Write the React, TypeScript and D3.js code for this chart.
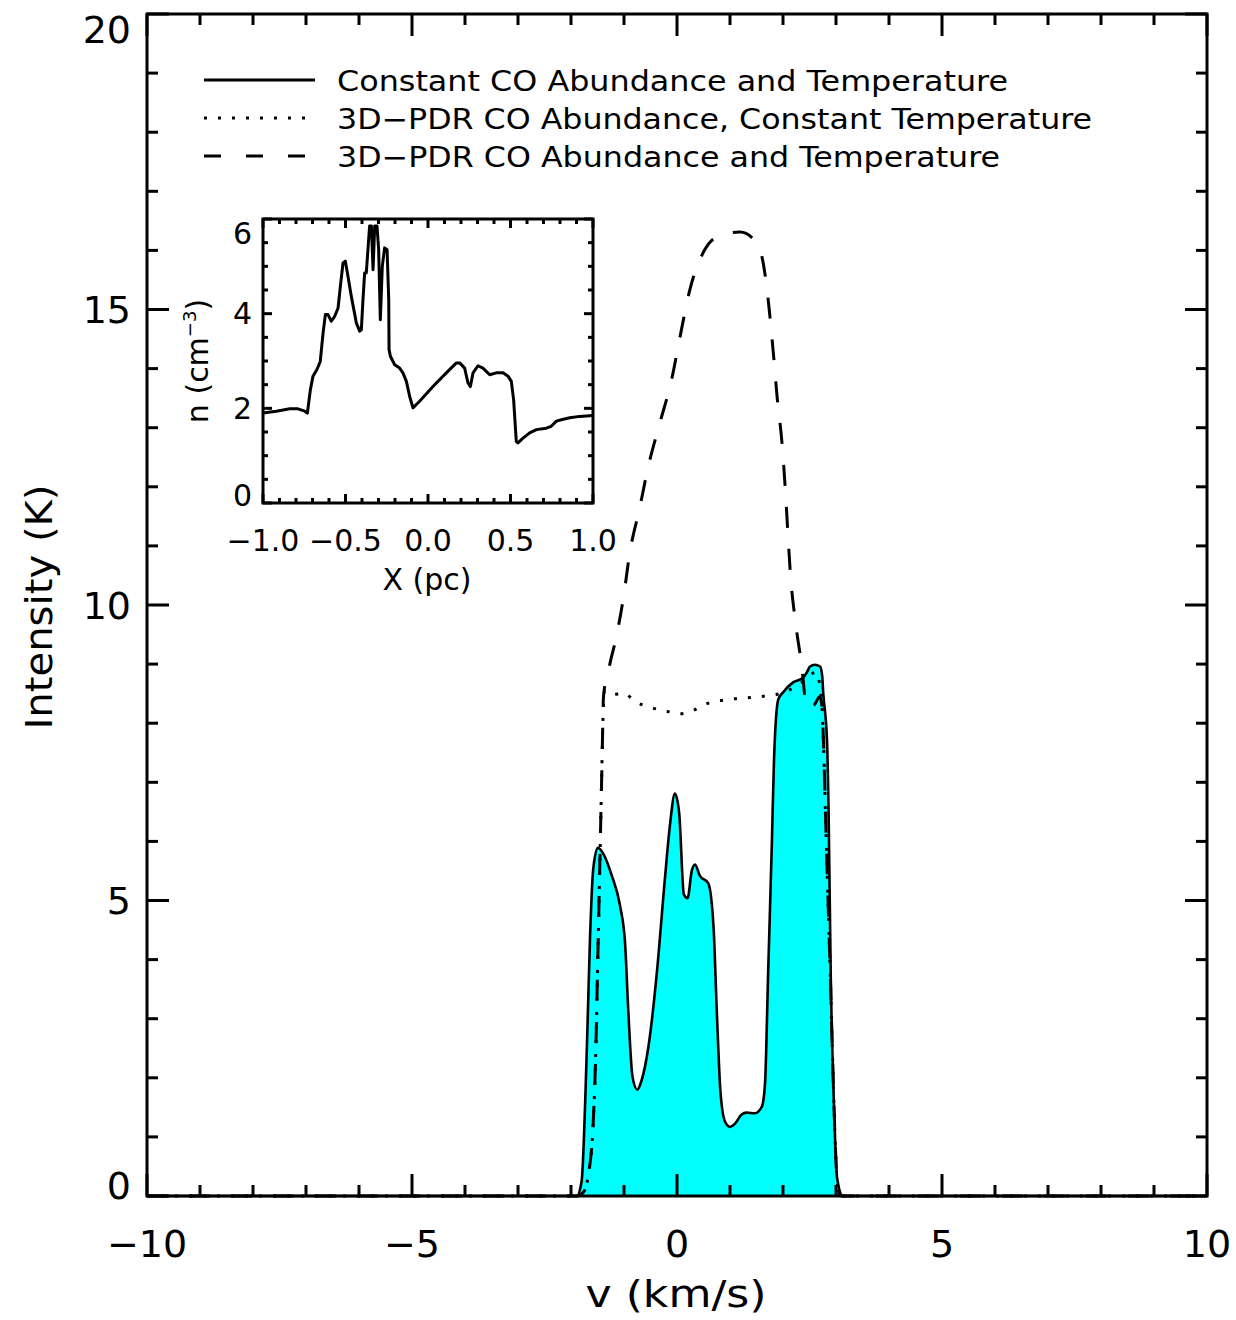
import React from "react";
import * as d3 from "d3";

// ---------- Data ----------
// Main panel: line profiles, velocity (km/s) vs intensity (K)
const solidV = [-10, -1.89, -1.80, -1.70, -1.64, -1.58, -1.49, -1.39, -1.23, -1.075, -0.98, -0.92, -0.84, -0.75, -0.67, -0.54, -0.38, -0.23, -0.13, -0.04, 0.04, 0.13, 0.20, 0.28, 0.34, 0.43, 0.59, 0.69, 0.75, 0.82, 0.91, 1.0, 1.09, 1.22, 1.31, 1.47, 1.60, 1.66, 1.72, 1.79, 1.83, 1.91, 2.0, 2.19, 2.38, 2.45, 2.51, 2.60, 2.70, 2.74, 2.76, 2.83, 2.86, 2.90, 2.96, 3.02, 3.13, 10];
const solidI = [0, 0, 0.25, 2.52, 4.40, 5.54, 5.89, 5.79, 5.42, 4.91, 4.28, 3.15, 2.02, 1.80, 1.95, 2.52, 3.78, 5.35, 6.30, 6.81, 6.49, 5.10, 5.04, 5.51, 5.61, 5.42, 5.29, 4.54, 3.15, 1.76, 1.25, 1.17, 1.22, 1.38, 1.41, 1.40, 1.51, 1.89, 3.78, 5.98, 7.37, 8.40, 8.52, 8.69, 8.77, 8.86, 8.96, 8.99, 8.96, 8.79, 8.5, 7.72, 6.5, 3.78, 1.58, 0.31, 0, 0];

const dottedV = [-10, -1.90, -1.77, -1.67, -1.58, -1.53, -1.50, -1.47, -1.44, -1.41, -1.40, -1.36, -1.23, -1.02, -0.76, -0.51, -0.19, 0.06, 0.31, 0.56, 1.06, 1.57, 1.94, 2.2, 2.45, 2.62, 2.70, 2.74, 2.77, 2.80, 2.85, 2.89, 2.93, 2.97, 3.01, 3.05, 3.10, 10];
const dottedI = [0, 0, 0.06, 0.37, 1.26, 2.52, 3.78, 5.04, 6.30, 7.56, 8.0, 8.55, 8.48, 8.51, 8.35, 8.27, 8.20, 8.16, 8.22, 8.33, 8.41, 8.45, 8.50, 8.6, 8.75, 8.87, 8.6, 8.2, 7.5, 6.5, 5.0, 3.8, 2.5, 1.3, 0.4, 0.08, 0, 0];

const dashedV = [-10, -1.90, -1.77, -1.67, -1.58, -1.53, -1.50, -1.47, -1.44, -1.41, -1.40, -1.39, -1.36, -1.30, -1.26, -1.17, -1.01, -0.89, -0.71, -0.54, -0.32, -0.10, 0.06, 0.23, 0.51, 0.81, 1.19, 1.50, 1.63, 1.74, 1.82, 1.89, 1.98, 2.04, 2.09, 2.14, 2.23, 2.35, 2.45, 2.58, 2.70, 2.74, 2.77, 2.80, 2.85, 2.89, 2.93, 2.97, 3.01, 3.05, 3.10, 10];
const dashedI = [0, 0, 0.06, 0.37, 1.26, 2.52, 3.78, 5.04, 6.30, 7.56, 8.0, 8.4, 8.65, 8.85, 9.03, 9.36, 10.13, 10.89, 11.62, 12.35, 13.09, 13.82, 14.55, 15.29, 15.99, 16.25, 16.31, 16.13, 15.77, 15.00, 14.24, 13.51, 12.75, 12.01, 11.25, 10.52, 9.75, 8.99, 8.26, 8.3, 8.45, 8.2, 7.5, 6.5, 5.0, 3.8, 2.5, 1.3, 0.4, 0.08, 0, 0];

// Inset: density profile, X (pc) vs n (cm^-3)
const insetX = [-1.0, -0.919, -0.838, -0.788, -0.747, -0.731, -0.713, -0.697, -0.673, -0.653, -0.636, -0.622, -0.606, -0.586, -0.566, -0.545, -0.531, -0.515, -0.501, -0.485, -0.465, -0.434, -0.414, -0.404, -0.394, -0.384, -0.374, -0.364, -0.354, -0.343, -0.333, -0.323, -0.309, -0.299, -0.289, -0.277, -0.263, -0.248, -0.238, -0.236, -0.228, -0.202, -0.172, -0.152, -0.131, -0.111, -0.091, -0.051, 0.030, 0.111, 0.172, 0.192, 0.222, 0.242, 0.257, 0.273, 0.303, 0.333, 0.374, 0.414, 0.455, 0.485, 0.505, 0.519, 0.535, 0.545, 0.576, 0.616, 0.657, 0.717, 0.747, 0.778, 0.808, 0.859, 0.919, 1.0];
const insetN = [1.90, 1.94, 1.99, 1.99, 1.94, 1.90, 2.39, 2.68, 2.82, 2.99, 3.59, 3.98, 3.98, 3.84, 3.94, 4.12, 4.58, 5.07, 5.11, 4.79, 4.37, 3.80, 3.63, 3.66, 4.30, 4.86, 4.86, 5.35, 5.85, 5.85, 4.93, 5.85, 5.85, 5.35, 3.87, 5.0, 5.39, 5.35, 4.30, 3.24, 3.10, 2.92, 2.85, 2.75, 2.57, 2.25, 2.01, 2.15, 2.46, 2.75, 2.96, 2.96, 2.85, 2.54, 2.46, 2.75, 2.90, 2.85, 2.71, 2.75, 2.75, 2.68, 2.57, 2.18, 1.30, 1.27, 1.37, 1.48, 1.55, 1.58, 1.62, 1.73, 1.76, 1.80, 1.83, 1.85];

// Ticks / labels
const mainXMajor = [-10, -5, 0, 5, 10];
const mainXLabels = ["\u221210", "\u22125", "0", "5", "10"];
const mainYMajor = [0, 5, 10, 15, 20];
const mainYLabels = ["0", "5", "10", "15", "20"];
const insetXMajor = [-1, -0.5, 0, 0.5, 1];
const insetXLabels = ["\u22121.0", "\u22120.5", "0.0", "0.5", "1.0"];
const insetYMajor = [0, 2, 4, 6];
const insetYLabels = ["0", "2", "4", "6"];

const legendLabels = [
  "Constant CO Abundance and Temperature",
  "3D\u2212PDR CO Abundance, Constant Temperature",
  "3D\u2212PDR CO Abundance and Temperature",
];

const FONT = "'DejaVu Sans', 'Noto Sans', sans-serif";

function range(a: number, b: number, step: number) {
  const out: number[] = [];
  const n = Math.round((b - a) / step);
  for (let i = 0; i <= n; i++) out.push(+(a + i * step).toFixed(6));
  return out;
}

function Frame({ x, y, xMajor, xMinorStep, yMajor, yMinorStep, majLen, minLen, sw }: any) {
  const [x0, x1] = x.range();
  const [y0, y1] = y.range(); // y0 bottom, y1 top
  const xd = x.domain();
  const yd = y.domain();
  const xMinor = range(xd[0], xd[1], xMinorStep);
  const yMinor = range(yd[0], yd[1], yMinorStep);
  const isMaj = (v: number, arr: number[]) => arr.some((m) => Math.abs(m - v) < 1e-6);
  const lines: any[] = [];
  xMinor.forEach((v, i) => {
    const L = isMaj(v, xMajor) ? majLen : minLen;
    const px = x(v);
    lines.push(<line key={"xb" + i} x1={px} x2={px} y1={y0} y2={y0 - L} />);
    lines.push(<line key={"xt" + i} x1={px} x2={px} y1={y1} y2={y1 + L} />);
  });
  yMinor.forEach((v, i) => {
    const L = isMaj(v, yMajor) ? majLen : minLen;
    const py = y(v);
    lines.push(<line key={"yl" + i} x1={x0} x2={x0 + L} y1={py} y2={py} />);
    lines.push(<line key={"yr" + i} x1={x1} x2={x1 - L} y1={py} y2={py} />);
  });
  return (
    <g stroke="#000" strokeWidth={sw} fill="none">
      {lines}
      <rect x={x0} y={y1} width={x1 - x0} height={y0 - y1} strokeLinejoin="miter" />
    </g>
  );
}

export default function App() {
  const W = 1236, H = 1320;
  const x = d3.scaleLinear().domain([-10, 10]).range([147, 1207]);
  const y = d3.scaleLinear().domain([0, 20]).range([1196, 14]);
  const xi = d3.scaleLinear().domain([-1, 1]).range([263, 593]);
  const yi = d3.scaleLinear().domain([0, 6]).range([503, 219]);

  const zip = (a: number[], b: number[]) => a.map((v, i) => [v, b[i]] as [number, number]);
  const line = d3.line<[number, number]>().x((d) => x(d[0])).y((d) => y(d[1])).curve(d3.curveMonotoneX);
  const area = d3.area<[number, number]>().x((d) => x(d[0])).y0(y(0)).y1((d) => y(d[1])).curve(d3.curveMonotoneX);
  const lineIn = d3.line<[number, number]>().x((d) => xi(d[0])).y((d) => yi(d[1]));

  const solid = zip(solidV, solidI);
  const dotted = zip(dottedV, dottedI);
  const dashed = zip(dashedV, dashedI);
  const inset = zip(insetX, insetN);

  const clampMain = (py: number) => Math.min(Math.max(py, 29), 1185);
  const clampIn = (py: number) => Math.min(Math.max(py, 233), 495);

  const legY = [80, 118, 156];
  const legLen = [671, 755, 663];

  return (
    <svg width={W} height={H} style={{ position: "absolute", left: 0, top: 0, background: "#fff" }} fontFamily={FONT}>
      <rect x={0} y={0} width={W} height={H} fill="#fff" />
      {/* Main profiles */}
      <path d={area(solid) || ""} fill="#00FFFF" stroke="none" />
      <path d={line(solid) || ""} fill="none" stroke="#000" strokeWidth={2.6} strokeLinejoin="round" />
      <path d={line(dotted) || ""} fill="none" stroke="#000" strokeWidth={3} strokeDasharray="3,11" />
      <path d={line(dashed) || ""} fill="none" stroke="#000" strokeWidth={3} strokeDasharray="21,21" />

      <Frame x={x} y={y} xMajor={mainXMajor} xMinorStep={1} yMajor={mainYMajor} yMinorStep={1} majLen={22} minLen={11} sw={3} />

      {/* Main tick labels */}
      <g fontSize={38} fill="#000">
        {mainXMajor.map((v, i) => (
          <text key={"mx" + i} x={x(v)} y={1257} textAnchor="middle">{mainXLabels[i]}</text>
        ))}
        {mainYMajor.map((v, i) => (
          <text key={"my" + i} x={131} y={clampMain(y(v))} dy="0.36em" textAnchor="end">{mainYLabels[i]}</text>
        ))}
      </g>
      <text x={676} y={1307} fontSize={38} textAnchor="middle" textLength={181} lengthAdjust="spacingAndGlyphs">v (km/s)</text>
      <text transform="translate(52,607) rotate(-90)" fontSize={38} textAnchor="middle" textLength={245} lengthAdjust="spacingAndGlyphs">Intensity (K)</text>

      {/* Legend */}
      <g>
        <line x1={204} x2={315} y1={legY[0]} y2={legY[0]} stroke="#000" strokeWidth={3} />
        <line x1={204} x2={315} y1={legY[1]} y2={legY[1]} stroke="#000" strokeWidth={3} strokeDasharray="3,11" />
        <line x1={204} x2={315} y1={legY[2]} y2={legY[2]} stroke="#000" strokeWidth={3} strokeDasharray="17,25" />
        {legendLabels.map((t, i) => (
          <text key={"lg" + i} x={337} y={legY[i] + 11} fontSize={28} textLength={legLen[i]} lengthAdjust="spacingAndGlyphs">{t}</text>
        ))}
      </g>

      {/* Inset */}
      <rect x={263} y={219} width={330} height={284} fill="#fff" />
      <path d={lineIn(inset) || ""} fill="none" stroke="#000" strokeWidth={3} strokeLinejoin="round" />
      <Frame x={xi} y={yi} xMajor={insetXMajor} xMinorStep={0.1} yMajor={insetYMajor} yMinorStep={0.5} majLen={9} minLen={5} sw={3} />
      <g fontSize={30} fill="#000">
        {insetXMajor.map((v, i) => (
          <text key={"ix" + i} x={xi(v)} y={551} textAnchor="middle">{insetXLabels[i]}</text>
        ))}
        {insetYMajor.map((v, i) => (
          <text key={"iy" + i} x={252} y={clampIn(yi(v))} dy="0.36em" textAnchor="end">{insetYLabels[i]}</text>
        ))}
      </g>
      <text x={427} y={590} fontSize={30} textAnchor="middle">X (pc)</text>
      <text transform="translate(208,361) rotate(-90)" fontSize={30} textAnchor="middle">
        n (cm<tspan fontSize={18} dy={-12}>{"\u22123"}</tspan><tspan dy={12}>)</tspan>
      </text>
    </svg>
  );
}
